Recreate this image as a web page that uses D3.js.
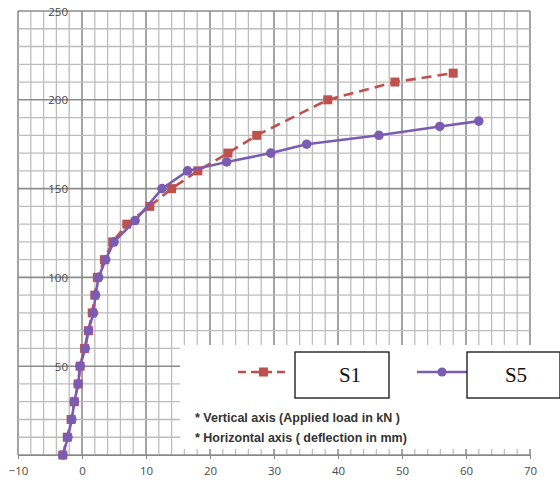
<!DOCTYPE html>
<html>
<head>
<meta charset="utf-8">
<script src="https://cdn.jsdelivr.net/npm/d3@7"></script>
<style>
  body { margin: 0; background: #fff; }
  .tick text { font-family: 'Open Sans', sans-serif; font-size: 11.5px; fill: #4a4a4a; }
</style>
</head>
<body>
<div id="chart"></div>
<script>
// deflection (mm) and load (kN)
const s1Deflection = [-3, -2.3, -1.7, -1.2, -0.6, -0.3, 0.4, 1, 1.6, 2, 2.4, 3.5, 4.8, 7, 10.6, 14, 18.1, 22.8, 27.3, 38.4, 48.9, 58]
const s1Load = [0, 10, 20, 30, 40, 50, 60, 70, 80, 90, 100, 110, 120, 130, 140, 150, 160, 170, 180, 200, 210, 215]

const s5Deflection = [-3, -2.2, -1.6, -1.2, -0.6, -0.3, 0.5, 1, 1.8, 2.1, 2.6, 3.7, 5, 8.3, 12.5, 16.5, 22.6, 29.5, 35.1, 46.4, 55.9, 62]
const s5Load = [0, 10, 20, 30, 40, 50, 60, 70, 80, 90, 100, 110, 120, 132, 150, 160, 165, 170, 175, 180, 185, 188]

const xTicks = [-10, 0, 10, 20, 30, 40, 50, 60, 70]
const yTicks = [50, 100, 150, 200, 250]
const seriesNames = ['S1', 'S5']
const notes = ['* Vertical axis (Applied load in kN )', '* Horizontal axis ( deflection in mm)']

let width = 560,
  height = 483

let red = '#c0504d',
  purple = '#7b5cb3'

let svg = d3.select('#chart')
  .append('svg')
  .attr('width', width)
  .attr('height', height)

let x = d3.scaleLinear().domain([-10, 70]).range([18, 530])
let y = d3.scaleLinear().domain([0, 250]).range([455, 11])

// grid: minor every 2 mm / 10 kN, major every 10 mm / 50 kN
let grid = svg.append('g')
grid.selectAll('.vminor')
  .data(d3.range(-10, 71, 2))
  .enter().append('line')
  .attr('x1', d => x(d)).attr('x2', d => x(d))
  .attr('y1', y(0)).attr('y2', y(250))
  .attr('stroke', d => d % 10 === 0 ? '#8c8c8c' : '#bcbcbc')
  .attr('stroke-width', d => d % 10 === 0 ? 1.6 : 1.3)
grid.selectAll('.hminor')
  .data(d3.range(0, 251, 10))
  .enter().append('line')
  .attr('x1', x(-10)).attr('x2', x(70))
  .attr('y1', d => y(d)).attr('y2', d => y(d))
  .attr('stroke', d => d % 50 === 0 ? '#8c8c8c' : '#bcbcbc')
  .attr('stroke-width', d => d % 50 === 0 ? 1.6 : 1.3)

// legend panel covers the lower right of the grid
svg.append('rect')
  .attr('x', 180).attr('y', 345)
  .attr('width', 380).attr('height', 104)
  .attr('fill', '#fff')

// axes cross at zero
let xAxis = svg.append('g')
  .attr('transform', `translate(0,${y(0)})`)
  .call(d3.axisBottom(x).tickValues(xTicks).tickSize(4).tickSizeOuter(0).tickPadding(8))
xAxis.select('.domain').attr('stroke', '#888').attr('stroke-width', 1.2)
xAxis.selectAll('.tick line').attr('stroke', '#888')

let yAxis = svg.append('g')
  .attr('transform', `translate(${x(0)},0)`)
  .call(d3.axisLeft(y).tickValues(yTicks).tickSize(0).tickPadding(14))
yAxis.select('.domain').remove()
yAxis.selectAll('.tick text').attr('dy', '0.35em')

// series
let line = d3.line().x(d => x(d[0])).y(d => y(d[1]))
let s1 = d3.zip(s1Deflection, s1Load)
let s5 = d3.zip(s5Deflection, s5Load)

svg.append('path')
  .datum(s1)
  .attr('d', line)
  .attr('fill', 'none')
  .attr('stroke', red)
  .attr('stroke-width', 2.6)
  .attr('stroke-dasharray', '10,6')

svg.selectAll('.sq')
  .data(s1)
  .enter().append('rect')
  .attr('x', d => x(d[0]) - 4.5)
  .attr('y', d => y(d[1]) - 4.5)
  .attr('width', 9).attr('height', 9)
  .attr('fill', red)

svg.append('path')
  .datum(s5)
  .attr('d', line)
  .attr('fill', 'none')
  .attr('stroke', purple)
  .attr('stroke-width', 2.6)

svg.selectAll('.dot')
  .data(s5)
  .enter().append('circle')
  .attr('cx', d => x(d[0]))
  .attr('cy', d => y(d[1]))
  .attr('r', 4.8)
  .attr('fill', purple)

// legend
let legend = [
  { name: seriesNames[0], color: red, dash: '10,6', lx: 238, box: 295, bw: 94, tx: 350 },
  { name: seriesNames[1], color: purple, dash: null, lx: 417, box: 467, bw: 93, tx: 516 }
]
legend.forEach(l => {
  svg.append('line')
    .attr('x1', l.lx).attr('x2', l.lx + 50)
    .attr('y1', 372).attr('y2', 372)
    .attr('stroke', l.color).attr('stroke-width', 2.6)
    .attr('stroke-dasharray', l.dash ? '8,5' : null)
  if (l.dash) {
    svg.append('rect')
      .attr('x', l.lx + 21).attr('y', 367.5)
      .attr('width', 9).attr('height', 9)
      .attr('fill', l.color)
  } else {
    svg.append('circle')
      .attr('cx', l.lx + 25).attr('cy', 372).attr('r', 4.6)
      .attr('fill', l.color)
  }
  svg.append('rect')
    .attr('x', l.box).attr('y', 352)
    .attr('width', l.bw).attr('height', 46)
    .attr('fill', '#fff')
    .attr('stroke', '#111').attr('stroke-width', 1.3)
  svg.append('text')
    .attr('x', l.tx).attr('y', 382)
    .attr('text-anchor', 'middle')
    .style('font-family', "'Liberation Serif', serif")
    .style('font-size', '21px')
    .style('fill', '#111')
    .text(l.name)
})

svg.selectAll('.note')
  .data(notes)
  .enter().append('text')
  .attr('x', 195)
  .attr('y', (d, i) => 422 + i * 20)
  .style('font-family', "'Liberation Sans', sans-serif")
  .style('font-size', '12.5px')
  .style('font-weight', 'bold')
  .style('fill', '#333')
  .text(d => d)
</script>
</body>
</html>
